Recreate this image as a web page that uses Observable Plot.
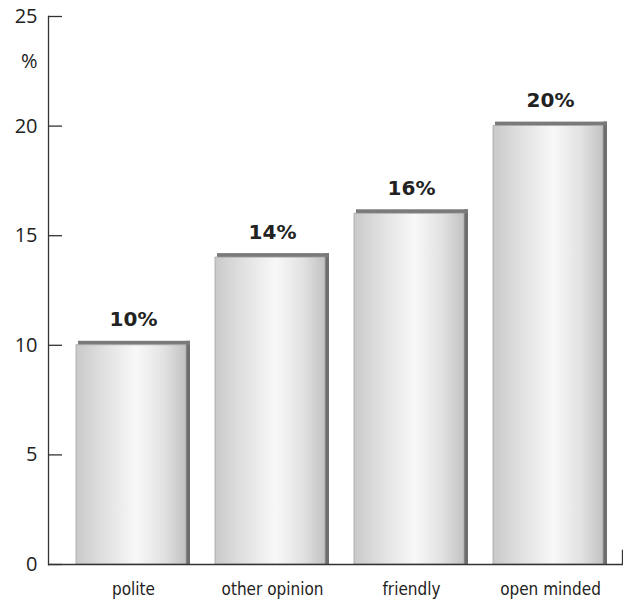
<!DOCTYPE html>
<html>
<head>
<meta charset="utf-8">
<script src="https://cdn.jsdelivr.net/npm/d3@7"></script>
<script src="https://cdn.jsdelivr.net/npm/@observablehq/plot@0.6"></script>
<style>
  body { margin: 0; background: #fff; }
  #chart svg { display: block; }
</style>
</head>
<body>
<div id="chart"></div>
<script>
// Share of respondents naming each trait
const categories = ["polite", "other opinion", "friendly", "open minded"];
const values = [10, 14, 16, 20];
const valueLabels = ["10%", "14%", "16%", "20%"];
const yTicks = [0, 5, 10, 15, 20, 25];

const data = categories.map((category, i) => ({
  category,
  value: values[i],
  label: valueLabels[i]
}));

// Horizontal metallic shading for the bar faces
const faceGradient = () => {
  const defs = d3.create("svg:defs");
  const g = defs.append("linearGradient")
    .attr("id", "barFace")
    .attr("x1", 0).attr("x2", 1).attr("y1", 0).attr("y2", 0);
  [[0, "#c9c9c9"], [0.2, "#dcdcdc"], [0.55, "#f8f8f8"], [0.8, "#e2e2e2"], [1, "#c2c2c2"]]
    .forEach(([o, c]) => g.append("stop").attr("offset", o).attr("stop-color", c));
  return defs.node();
};

const axisColor = "#333";
const sideColor = "#6e6e6e";
const topColor = "#7a7a7a";

const chart = Plot.plot({
  width: 623,
  height: 603,
  marginLeft: 48,
  marginRight: 1,
  marginTop: 16,
  marginBottom: 39,
  x: { domain: categories, range: [76, 607], paddingInner: 0.18, paddingOuter: 0, label: null },
  y: { domain: [0, 25], label: null },
  style: { background: "#fff", color: "#222" },
  marks: [
    faceGradient,
    // right-hand side of each bar
    Plot.barY(data, { x: "category", y: "value", insetLeft: 110, insetTop: -4, fill: sideColor }),
    // top edge of each bar
    Plot.barY(data, { x: "category", y1: "value", y2: "value", insetTop: -4, insetLeft: 2, fill: topColor }),
    // bar face
    Plot.barY(data, {
      x: "category", y: "value", insetRight: 4,
      fill: "url(#barFace)", stroke: "#a5a5a5", strokeWidth: 0.8
    }),
    // axes
    Plot.frame({ anchor: "left", stroke: axisColor, strokeWidth: 1.3 }),
    Plot.ruleY([0], { stroke: axisColor, strokeWidth: 1.5 }),
    Plot.frame({ anchor: "right", insetTop: 534, stroke: axisColor, strokeWidth: 1.3 }),
    Plot.axisY(yTicks, {
      tickSize: -14, tickPadding: 25, stroke: axisColor, strokeWidth: 1.3,
      fontSize: 20, fontFamily: "'Open Sans', sans-serif", fill: "#222"
    }),
    Plot.text(["%"], {
      text: d => d, frameAnchor: "top-left", dx: -11, dy: 37, textAnchor: "end",
      fontSize: 20, fontFamily: "'Open Sans', sans-serif", fill: "#222"
    }),
    Plot.axisX({
      tickSize: 0, tickPadding: 18,
      fontSize: 17, fontFamily: "'Liberation Sans Narrow', 'DejaVu Sans Condensed', sans-serif", fill: "#222"
    }),
    // value labels above the bars
    Plot.text(data, {
      x: "category", y: "value", text: "label", dy: -19, lineAnchor: "bottom",
      fontSize: 20, fontWeight: "bold", fontFamily: "'DejaVu Sans', sans-serif", fill: "#222"
    })
  ]
});

document.getElementById("chart").append(chart);
</script>
</body>
</html>
